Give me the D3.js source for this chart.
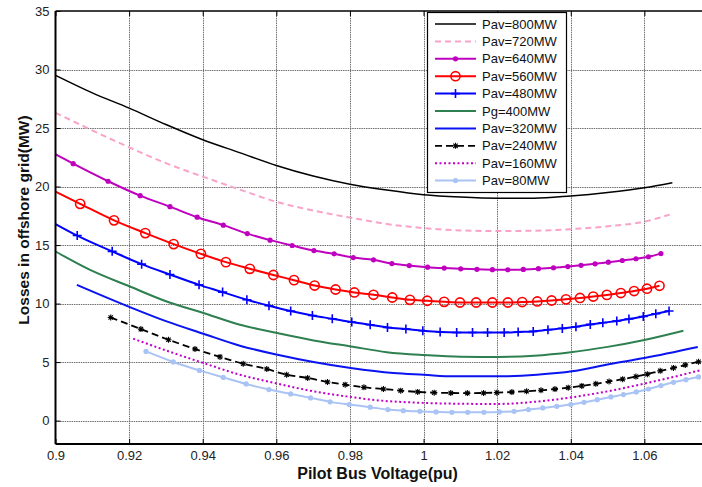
<!DOCTYPE html>
<html><head><meta charset="utf-8">
<script src="https://cdn.jsdelivr.net/npm/d3@7"></script>
<style>body{margin:0;background:#fff}svg{display:block;font-family:"Liberation Sans",Arial,sans-serif}</style>
</head><body><svg id="c" width="702" height="487"></svg>
<script>
// ---- data ----
const seriesNames = ["Pav=800MW","Pav=720MW","Pav=640MW","Pav=560MW","Pav=480MW","Pg=400MW","Pav=320MW","Pav=240MW","Pav=160MW","Pav=80MW"];
const xTicks = [0.9,0.92,0.94,0.96,0.98,1,1.02,1.04,1.06];
const xTickLabels = ["0.9","0.92","0.94","0.96","0.98","1","1.02","1.04","1.06"];
const yTicks = [0,5,10,15,20,25,30,35];
const yTickLabels = ["0","5","10","15","20","25","30","35"];
const xLabel = "Pilot Bus Voltage(pu)";
const yLabel = "Losses in offshore grid(MW)";

const x800 = [0.9,0.91,0.92,0.93,0.94,0.95,0.96,0.97,0.98,0.99,1.0,1.01,1.02,1.03,1.04,1.05,1.06,1.0676];
const y800 = [29.5,28.0,26.7,25.3,24.0,22.9,21.8,20.9,20.2,19.7,19.3,19.1,19.0,19.0,19.2,19.5,19.9,20.33];

const x720 = [0.9,0.91,0.92,0.93,0.94,0.95,0.96,0.97,0.98,0.99,1.0,1.01,1.02,1.03,1.04,1.05,1.06,1.0669];
const y720 = [26.3,24.8,23.35,22.0,20.85,19.75,18.7,17.95,17.35,16.8,16.45,16.25,16.2,16.22,16.36,16.6,17.0,17.6];

const x640 = [0.9,0.9048,0.9143,0.9230,0.9311,0.9385,0.9456,0.9521,0.9583,0.9643,0.9702,0.9757,0.9809,0.9864,0.9914,0.9961,1.0011,1.0056,1.0101,1.0145,1.0187,1.0229,1.0271,1.0312,1.0353,1.0392,1.0428,1.0466,1.0502,1.0540,1.0577,1.0611,1.0645];
const y640 = [22.75,21.95,20.45,19.22,18.28,17.38,16.70,15.98,15.42,14.96,14.53,14.25,13.93,13.74,13.42,13.25,13.11,13.03,12.97,12.93,12.90,12.89,12.92,12.98,13.06,13.16,13.27,13.40,13.54,13.68,13.83,14.00,14.27];

const x560 = [0.9,0.9067,0.9159,0.9244,0.9321,0.9395,0.9463,0.9528,0.9592,0.9648,0.9704,0.9761,0.9812,0.9864,0.9915,0.9963,1.0010,1.0056,1.0099,1.0143,1.0187,1.0229,1.0268,1.0309,1.0348,1.0387,1.0425,1.0461,1.0498,1.0536,1.0572,1.0607,1.0641];
const y560 = [19.57,18.52,17.11,16.02,15.08,14.25,13.54,12.97,12.44,12.00,11.54,11.20,10.95,10.75,10.52,10.32,10.24,10.15,10.09,10.09,10.09,10.09,10.13,10.18,10.26,10.36,10.48,10.60,10.74,10.90,11.07,11.27,11.52];

const x480 = [0.9,0.9059,0.9154,0.9234,0.9311,0.9390,0.9454,0.9520,0.9580,0.9639,0.9698,0.9752,0.9805,0.9855,0.9902,0.9952,0.9998,1.0045,1.0090,1.0133,1.0174,1.0219,1.0257,1.0298,1.0338,1.0377,1.0414,1.0453,1.0487,1.0525,1.0558,1.0597,1.0631,1.0667];
const y480 = [16.8,15.81,14.46,13.37,12.48,11.60,10.98,10.32,9.81,9.36,8.98,8.70,8.42,8.19,7.96,7.82,7.68,7.57,7.53,7.53,7.53,7.53,7.57,7.62,7.76,7.88,8.02,8.22,8.36,8.51,8.68,8.90,9.13,9.36];

const x400 = [0.9,0.9094,0.9202,0.9302,0.9402,0.9501,0.9603,0.9701,0.9802,0.99,1.0,1.01,1.02,1.03,1.04,1.05,1.06,1.0706];
const y400 = [14.45,12.88,11.46,10.18,9.19,8.19,7.48,6.85,6.34,5.85,5.6,5.45,5.44,5.54,5.84,6.3,6.89,7.68];

const x320 = [0.9058,0.9202,0.93,0.9402,0.9501,0.9603,0.9701,0.9802,0.9918,1.0001,1.0081,1.0202,1.0308,1.0403,1.0507,1.0600,1.0745];
const y320 = [11.6,9.70,8.5,7.42,6.40,5.63,5.01,4.50,4.07,3.92,3.78,3.78,3.92,4.21,4.84,5.35,6.29];

const x240 = [0.9150,0.9232,0.9307,0.9379,0.9447,0.9510,0.9574,0.9628,0.9685,0.9739,0.9787,0.9838,0.9891,0.9938,0.9984,1.0029,1.0074,1.0119,1.0163,1.0199,1.0240,1.0280,1.0319,1.0357,1.0393,1.0430,1.0468,1.0504,1.0541,1.0577,1.0608,1.0643,1.0679,1.0711,1.0747];
const y240 = [8.81,7.82,6.91,6.12,5.44,4.86,4.41,3.92,3.64,3.30,3.07,2.84,2.70,2.56,2.45,2.39,2.36,2.35,2.36,2.39,2.44,2.51,2.59,2.69,2.81,2.96,3.14,3.34,3.54,3.76,3.97,4.25,4.50,4.75,5.03];

const x160 = [0.9211,0.9320,0.9402,0.9501,0.9603,0.9701,0.9802,0.9855,1.0001,1.01,1.0202,1.03,1.0403,1.05,1.0600,1.0675,1.0750];
const y160 = [7.00,5.78,4.92,3.92,3.16,2.50,2.02,1.80,1.51,1.44,1.42,1.6,1.99,2.5,3.16,3.7,4.29];

const x80 = [0.9246,0.9320,0.9391,0.9456,0.9518,0.9580,0.9639,0.9693,0.9746,0.9798,0.9855,0.9903,0.9945,0.9990,1.0034,1.0077,1.0120,1.0164,1.0206,1.0246,1.0285,1.0324,1.0362,1.0400,1.0436,1.0472,1.0509,1.0543,1.0578,1.0611,1.0645,1.0679,1.0713,1.0747];
const y80 = [5.91,5.01,4.29,3.69,3.13,2.65,2.28,1.94,1.60,1.37,1.15,0.94,0.85,0.79,0.74,0.71,0.71,0.71,0.74,0.79,0.94,1.08,1.22,1.37,1.56,1.79,2.02,2.22,2.45,2.70,2.99,3.27,3.50,3.73];

// ---- styles ----
const styles = [
  {color:"#000000", width:1.5, dash:null, marker:null, skipFirst:false},
  {color:"#f9a3c9", width:2, dash:"6,4", marker:null, skipFirst:false},
  {color:"#bf00bf", width:2, dash:null, marker:"dot", skipFirst:true},
  {color:"#ff0000", width:2, dash:null, marker:"circle", skipFirst:true},
  {color:"#0000ff", width:2, dash:null, marker:"plus", skipFirst:true},
  {color:"#2e8050", width:2, dash:null, marker:null, skipFirst:false},
  {color:"#0a14f0", width:2, dash:null, marker:null, skipFirst:false},
  {color:"#000000", width:1.8, dash:"7,4", marker:"star", skipFirst:false},
  {color:"#c000c8", width:2, dash:"2,2.5", marker:null, skipFirst:false},
  {color:"#a9c3f5", width:2, dash:null, marker:"dot", skipFirst:false}
];
const xs = [x800,x720,x640,x560,x480,x400,x320,x240,x160,x80];
const ys = [y800,y720,y640,y560,y480,y400,y320,y240,y160,y80];
const series = seriesNames.map((n,i)=>({name:n, pts:xs[i].map((v,j)=>[v, ys[i][j]]), st:styles[i]}));

// ---- chart ----
const svg = d3.select("#c");
const L=55.5, R=718, T=11, B=444;
const x = d3.scaleLinear().domain([0.9,1.08]).range([L,R]);
const y = d3.scaleLinear().domain([-2,35]).range([B,T]);

svg.append("defs").append("clipPath").attr("id","clip")
  .append("rect").attr("x",L).attr("y",T).attr("width",R-L).attr("height",B-T);

// grid
const grid = svg.append("g").attr("stroke","#707070").attr("stroke-width",1).attr("stroke-dasharray","1.5,0.8");
grid.selectAll(".gx").data(xTicks.slice(1)).join("line")
  .attr("x1",d=>Math.round(x(d))+0.5).attr("x2",d=>Math.round(x(d))+0.5).attr("y1",T).attr("y2",B);
grid.selectAll(".gy").data(yTicks.slice(0,-1)).join("line")
  .attr("y1",d=>Math.round(y(d))+0.5).attr("y2",d=>Math.round(y(d))+0.5).attr("x1",L).attr("x2",R);

const line = d3.line().x(d=>x(d[0])).y(d=>y(d[1])).curve(d3.curveMonotoneX);
const plot = svg.append("g").attr("clip-path","url(#clip)");

function drawMarker(g, type, color, px, py){
  if(type==="dot") g.append("circle").attr("cx",px).attr("cy",py).attr("r",2.6).attr("fill",color);
  else if(type==="circle") g.append("circle").attr("cx",px).attr("cy",py).attr("r",4.6).attr("fill","none").attr("stroke",color).attr("stroke-width",1.6);
  else if(type==="plus") g.append("path").attr("d",`M${px-4.5},${py}H${px+4.5}M${px},${py-4.5}V${py+4.5}`).attr("stroke",color).attr("stroke-width",1.6);
  else if(type==="star") g.append("path").attr("d",`M${px-3},${py}H${px+3}M${px},${py-3}V${py+3}M${px-2.2},${py-2.2}L${px+2.2},${py+2.2}M${px-2.2},${py+2.2}L${px+2.2},${py-2.2}`).attr("stroke",color).attr("stroke-width",1.1);
}

series.forEach(s=>{
  plot.append("path").attr("d",line(s.pts)).attr("fill","none")
    .attr("stroke",s.st.color).attr("stroke-width",s.st.width)
    .attr("stroke-dasharray",s.st.dash);
  if(s.st.marker){
    const mg = plot.append("g");
    s.pts.forEach((p,j)=>{
      if(s.st.skipFirst && j===0) return;
      drawMarker(mg, s.st.marker, s.st.color, x(p[0]), y(p[1]));
    });
  }
});

// axes
const xAxis = d3.axisBottom(x).tickValues(xTicks).tickFormat((d,i)=>xTickLabels[i]).tickSizeInner(-5).tickSizeOuter(0).tickPadding(7);
const yAxis = d3.axisLeft(y).tickValues(yTicks).tickFormat((d,i)=>yTickLabels[i]).tickSizeInner(-5).tickSizeOuter(0).tickPadding(6);
const gx = svg.append("g").attr("transform",`translate(0,${B})`).call(xAxis);
const gy = svg.append("g").attr("transform",`translate(${L},0)`).call(yAxis);
const gxt = svg.append("g").attr("transform",`translate(0,${T})`).call(d3.axisTop(x).tickValues(xTicks).tickFormat("").tickSizeInner(-5).tickSizeOuter(0));
[gx,gy,gxt].forEach(g=>{
  g.select(".domain").remove();
  g.selectAll(".tick line").attr("stroke","#000");
  g.selectAll("text").attr("font-size",13).attr("fill","#222").attr("font-family","'Liberation Sans',Arial,sans-serif");
});
svg.append("line").attr("x1",L).attr("x2",R).attr("y1",B).attr("y2",B).attr("stroke","#000").attr("stroke-width",2);
svg.append("line").attr("x1",L).attr("x2",L).attr("y1",T).attr("y2",B).attr("stroke","#000").attr("stroke-width",2);
svg.append("line").attr("x1",L).attr("x2",R).attr("y1",T).attr("y2",T).attr("stroke","#000").attr("stroke-width",1.5);

// axis labels
svg.append("text").attr("x",(L + x(1.075))/2).attr("y",479).attr("text-anchor","middle")
  .attr("font-size",16).attr("font-weight","bold").attr("fill","#111").text(xLabel);
svg.append("text").attr("transform",`translate(29,220) rotate(-90)`).attr("text-anchor","middle")
  .attr("font-size",15.5).attr("font-weight","bold").attr("fill","#111").text(yLabel);

// legend
const lg = svg.append("g");
lg.append("rect").attr("x",427.5).attr("y",12.5).attr("width",139).attr("height",180).attr("fill","#fff").attr("stroke","#000").attr("stroke-width",1.2);
series.forEach((s,i)=>{
  const cy = 24 + i*17.4;
  lg.append("line").attr("x1",435).attr("x2",476).attr("y1",cy).attr("y2",cy)
    .attr("stroke",s.st.color).attr("stroke-width",s.st.width).attr("stroke-dasharray",s.st.dash);
  if(s.st.marker) drawMarker(lg, s.st.marker, s.st.color, 455.5, cy);
  lg.append("text").attr("x",482).attr("y",cy).attr("dy","0.36em").attr("font-size",13).attr("fill","#111").text(s.name);
});
</script></body></html>
